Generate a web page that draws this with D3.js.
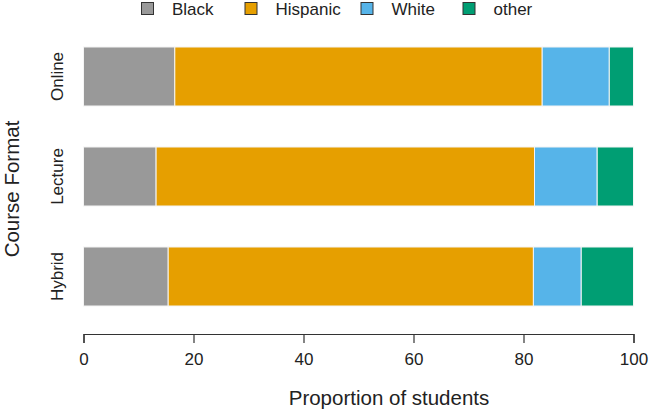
<!DOCTYPE html>
<html><head><meta charset="utf-8">
<script src="https://cdn.jsdelivr.net/npm/d3@7"></script>
<style>body{margin:0;background:#fff}svg{display:block}text{font-family:"Liberation Sans",Arial,sans-serif;fill:#222}</style>
</head><body>
<script>
const formats = ["Online", "Lecture", "Hybrid"];
const groups = ["Black", "Hispanic", "White", "other"];
const black = [16.6, 13.2, 15.4];
const hispanic = [66.8, 68.8, 66.4];
const white = [12.2, 11.4, 8.7];
const other = [4.4, 6.6, 9.5];
const xTicks = [0, 20, 40, 60, 80, 100];
const colors = ["#999999", "#E69F00", "#56B4E9", "#009E73"];

const W = 650, H = 411;
const svg = d3.select("body").append("svg").attr("width", W).attr("height", H);
const x = d3.scaleLinear().domain([0, 100]).range([83.5, 633.5]);
const y = d3.scaleBand().domain(formats).range([27, 326]).paddingInner(0.41).paddingOuter(0.2);

const table = formats.map((f, i) => ({format: f, Black: black[i], Hispanic: hispanic[i], White: white[i], other: other[i]}));
const stacked = d3.stack().keys(groups)(table);

svg.append("g").selectAll("g").data(stacked).join("g")
  .attr("fill", (d, i) => colors[i])
  .selectAll("rect").data(d => d).join("rect")
  .attr("x", d => x(d[0])).attr("width", d => x(d[1]) - x(d[0]))
  .attr("y", d => y(d.data.format)).attr("height", y.bandwidth())
  .attr("stroke", "#f4f4f4").attr("stroke-width", 1);

// x axis
const xa = svg.append("g").attr("transform", "translate(0,334)")
  .call(d3.axisBottom(x).tickValues(xTicks).tickSize(9).tickPadding(9.5));
xa.select(".domain").attr("stroke", "#333").attr("stroke-width", 1.2);
xa.selectAll(".tick line").attr("stroke", "#333").attr("stroke-width", 1.2);
xa.selectAll("text").style("font-size", "17px").attr("fill", "#222");

// y labels
svg.append("g").selectAll("text").data(formats).join("text")
  .attr("transform", d => `translate(63,${y(d) + y.bandwidth() / 2}) rotate(-90)`)
  .attr("text-anchor", "middle").style("font-size", "17px").text(d => d);

// axis titles
svg.append("text").attr("x", 389).attr("y", 405).attr("text-anchor", "middle")
  .style("font-size", "20.5px").text("Proportion of students");
svg.append("text").attr("transform", "translate(19,189) rotate(-90)")
  .attr("text-anchor", "middle").style("font-size", "20.5px").text("Course Format");

// legend
const legX = [147.5, 251, 367, 469];
const lg = svg.append("g").selectAll("g").data(groups).join("g")
  .attr("transform", (d, i) => `translate(${legX[i]},8.5)`);
lg.append("rect").attr("x", -6).attr("y", -6).attr("width", 12).attr("height", 12)
  .attr("fill", (d, i) => colors[i]).attr("stroke", "#333").attr("stroke-width", 1);
lg.append("text").attr("x", 24.5).attr("y", 6.5).style("font-size", "17px").text(d => d);
</script>
</body></html>
